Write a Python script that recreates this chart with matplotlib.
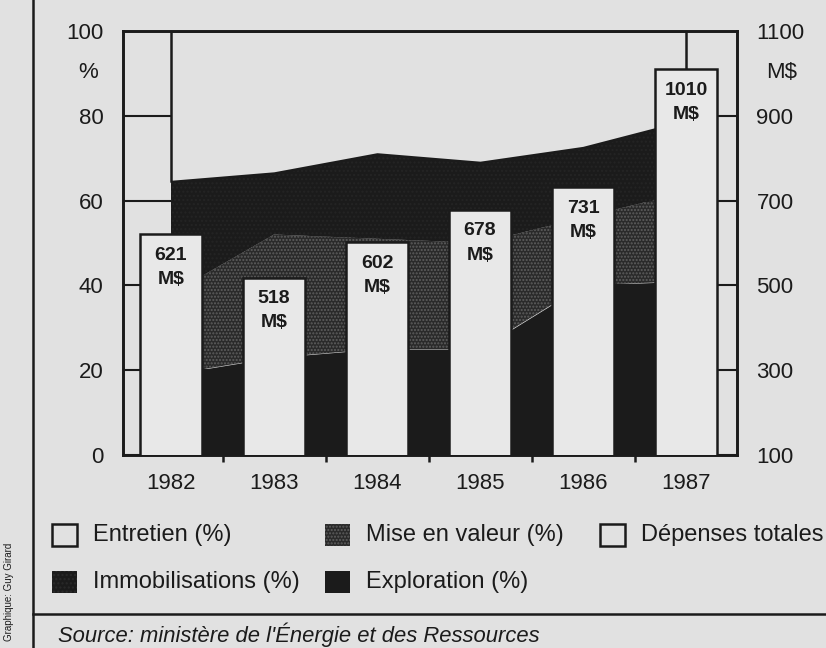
import numpy as np
import matplotlib
matplotlib.use('Agg')
import matplotlib.pyplot as plt
import matplotlib.transforms as mtransforms
from matplotlib.patches import Rectangle
from matplotlib.lines import Line2D

# --- Data ---
years = ['1982', '1983', '1984', '1985', '1986', '1987']
exploration = [19, 23, 25, 25, 40, 41]
mise_en_valeur = [19, 29, 26, 25, 16, 21]
immobilisations = [26.5, 14.5, 20, 19, 16.5, 16.8]
entretien = [35.5, 33.5, 29, 31, 27.5, 21.2]
depenses = [621, 518, 602, 678, 731, 1010]

pct_ticks = [0, 20, 40, 60, 80, 100]
ms_ticks = [100, 300, 500, 700, 900, 1100]

legend_labels = ['Entretien (%)', 'Mise en valeur (%)', 'Dépenses totales',
                 'Immobilisations (%)', 'Exploration (%)']

# --- Style ---
BG = '#e1e1e1'
BLACK = '#1b1b1b'
BAR = '#e8e8e8'
DOT_FACE = '#2a2a2a'
DOT_HATCH = '#5e5e5e'
plt.rcParams['font.family'] = ['Liberation Sans', 'DejaVu Sans']
plt.rcParams['hatch.linewidth'] = 1.0

W, H = 826, 648
fig = plt.figure(figsize=(W / 100, H / 100), dpi=100, facecolor=BG)


def fx(px):
    return px / W


def fy(py):
    return 1 - py / H


ax = fig.add_axes([fx(123), fy(455), fx(737) - fx(123), fy(31) - fy(455)])
ax.set_facecolor(BG)
ax2 = ax.twinx()

x = np.arange(len(years))

# stacked percentage areas (bottom to top)
layers = [
    (exploration, BLACK, None, BLACK, 0),
    (mise_en_valeur, DOT_FACE, '.....', DOT_HATCH, 0),
    (immobilisations, BLACK, '....', '#242424', 0),
    (entretien, BG, None, BLACK, 1.8),
]
base = np.zeros(len(years))
for vals, fc, hatch, ec, lw in layers:
    top = base + np.array(vals)
    ax.fill_between(x, base, top, facecolor=fc, edgecolor=ec, hatch=hatch,
                    linewidth=lw, zorder=2)
    base = top

ax.set_xlim(-0.466, 5.495)
ax.set_ylim(0, 100)
ax.set_yticks(pct_ticks)
ax.grid(axis='y', color=BLACK, linewidth=1.5, zorder=0.5)
ax.set_axisbelow(True)
ax.tick_params(axis='y', length=0, pad=14, labelsize=16, colors=BLACK)
ax.set_xticks(x, years)
ax.set_xticks(np.arange(0.5, 5, 1), minor=True)
ax.tick_params(axis='x', which='major', length=0, pad=13, labelsize=16, colors=BLACK)
ax.tick_params(axis='x', which='minor', length=5, width=1.8, color=BLACK)

# total spending bars on the right axis
ax2.bar(x, depenses, width=0.6, color=BAR, edgecolor=BLACK, linewidth=1.8, zorder=3)
for xi, v in zip(x, depenses):
    ax2.annotate(f'{v}\nM$', (xi, v), xytext=(0, -9), textcoords='offset points',
                 ha='center', va='top', fontsize=14, linespacing=1.55,
                 color=BLACK, fontweight='bold')
ax2.set_ylim(100, 1100)
ax2.set_yticks(ms_ticks)
ax2.tick_params(axis='y', length=0, pad=14, labelsize=16, colors=BLACK)

for a in (ax, ax2):
    for s in a.spines.values():
        s.set_color(BLACK)
        s.set_linewidth(1.9)

trans_l = mtransforms.blended_transform_factory(ax.transAxes, ax.transData)
ax.text(-0.057, 90.3, '%', transform=trans_l, ha='center', va='center',
        fontsize=16, color=BLACK)
ax.text(1.073, 90.3, 'M$', transform=trans_l, ha='center', va='center',
        fontsize=16, color=BLACK)

# --- Legend, drawn by hand ---
legend_styles = [
    (BG, None, BLACK),
    (DOT_FACE, '.....', DOT_HATCH),
    (BG, None, BLACK),
    (BLACK, '....', '#2a2a2a'),
    (BLACK, None, BLACK),
]
legend_pos = [(52, 535), (325, 535), (600, 535), (52, 582), (325, 582)]
for label, (fc, hatch, ec), (lx, ly) in zip(legend_labels, legend_styles, legend_pos):
    lw = 1.8 if fc == BG else 0
    fig.add_artist(Rectangle((fx(lx), fy(ly + 11)), fx(25), 22 / H,
                             transform=fig.transFigure, facecolor=fc,
                             edgecolor=ec, hatch=hatch, linewidth=lw))
    fig.text(fx(lx + 41), fy(ly), label, fontsize=17, va='center', ha='left',
             color=BLACK)

# frame lines and credits
fig.add_artist(Line2D([fx(33), fx(33)], [0, 1], transform=fig.transFigure,
                      color=BLACK, linewidth=1.8))
fig.add_artist(Line2D([fx(33), 1], [fy(614), fy(614)], transform=fig.transFigure,
                      color=BLACK, linewidth=1.8))
fig.text(fx(58), fy(635), "Source: ministère de l'Énergie et des Ressources",
         style='italic', fontsize=15.8, va='center', ha='left', color=BLACK)
fig.text(fx(9), fy(592), 'Graphique: Guy Girard', rotation=90, fontsize=7,
         ha='center', va='center', color=BLACK)

fig.savefig('out.png', dpi=100, facecolor=BG)
